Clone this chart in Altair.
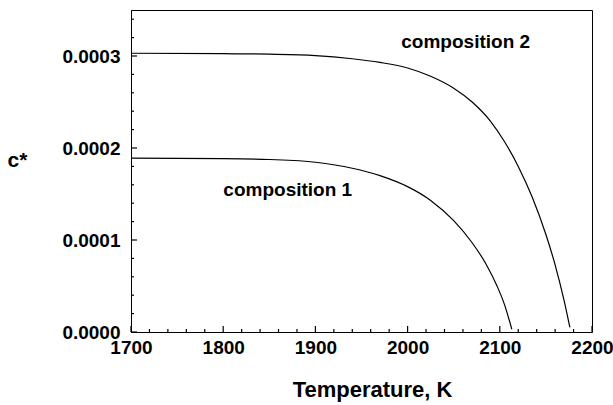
import altair as alt
import pandas as pd

# Data (c in units of 1e-4)
comp2_T = [1700, 1800, 1850, 1900, 1940, 1970, 2000, 2025, 2050, 2070, 2090, 2105, 2120, 2135, 2150, 2160, 2170, 2176]
comp2_c = [3.03, 3.025, 3.02, 3.005, 2.97, 2.93, 2.87, 2.78, 2.65, 2.50, 2.29, 2.07, 1.80, 1.47, 1.06, 0.73, 0.33, 0.05]
comp1_T = [1700, 1800, 1850, 1900, 1940, 1970, 2000, 2025, 2050, 2070, 2085, 2097, 2105, 2113]
comp1_c = [1.89, 1.885, 1.875, 1.845, 1.78, 1.70, 1.58, 1.43, 1.21, 0.97, 0.74, 0.50, 0.30, 0.03]

label_text = ["composition 2", "composition 1"]
label_T = [2063, 1870]
label_c = [3.154, 1.547]

x_major = [1700, 1800, 1900, 2000, 2100, 2200]
x_minor = [v for v in range(1700, 2201, 20) if v % 100 != 0]
y_major = [0.0, 0.0001, 0.0002, 0.0003]
y_minor = [i * 0.00002 for i in range(0, 18) if i % 5 != 0]

FONT = "Liberation Sans"
W, H = 461, 322

rows = []
for t, c in zip(comp2_T, comp2_c):
    rows.append({"T": t, "c": c * 1e-4, "series": "composition 2"})
for t, c in zip(comp1_T, comp1_c):
    rows.append({"T": t, "c": c * 1e-4, "series": "composition 1"})
df = pd.DataFrame(rows)
lab = pd.DataFrame({"T": label_T, "c": [v * 1e-4 for v in label_c], "text": label_text})

xscale = alt.Scale(domain=[1700, 2200], nice=False, zero=False)
yscale = alt.Scale(domain=[0, 0.00035], nice=False)

xaxis = alt.Axis(values=x_major, format="d", ticks=False, grid=False,
                 labelFont=FONT, labelFontSize=19, labelFontWeight="bold", labelColor="black",
                 labelPadding=6, domainColor="black", domainWidth=1,
                 title="Temperature, K", titleFont=FONT, titleFontSize=22, titleFontWeight="bold",
                 titleColor="black", titleX=241, titleY=64, titleBaseline="alphabetic",
                 labelOverlap=False, labelFlush=False)
yaxis = alt.Axis(values=y_major, format=".4f", ticks=False, grid=False,
                 labelFont=FONT, labelFontSize=19, labelFontWeight="bold", labelColor="black",
                 labelPadding=11, domainColor="black", domainWidth=1,
                 title="c*", titleFont=FONT, titleFontSize=21, titleFontWeight="bold",
                 titleColor="black", titleAngle=0, titleX=-114, titleY=150,
                 titleAlign="center", titleBaseline="middle", labelOverlap=False, labelFlush=False)

lines = alt.Chart(df).mark_line(color="black", strokeWidth=1.2, interpolate="monotone").encode(
    x=alt.X("T:Q", scale=xscale, axis=xaxis),
    y=alt.Y("c:Q", scale=yscale, axis=yaxis),
    detail="series:N",
)

texts = alt.Chart(lab).mark_text(font=FONT, fontSize=19, fontWeight="bold", color="black",
                                  align="center", baseline="middle").encode(
    x=alt.X("T:Q", scale=xscale, axis=xaxis),
    y=alt.Y("c:Q", scale=yscale, axis=yaxis),
    text="text:N",
)

def xticks(vals, length):
    return alt.Chart(pd.DataFrame({"T": vals})).mark_rule(color="black", strokeWidth=1.2).encode(
        x=alt.X("T:Q", scale=xscale, axis=xaxis),
        y=alt.value(H), y2=alt.value(H - length),
    )

def yticks(vals, length):
    return alt.Chart(pd.DataFrame({"c": vals})).mark_rule(color="black", strokeWidth=1.2).encode(
        y=alt.Y("c:Q", scale=yscale, axis=yaxis),
        x=alt.value(0), x2=alt.value(length),
    )

chart = alt.layer(
    lines, texts,
    xticks(x_major, 6), xticks(x_minor, 3),
    yticks(y_major, 6), yticks(y_minor, 3),
).properties(
    width=W, height=H,
    autosize=alt.AutoSizeParams(type="none"),
    padding={"left": 131, "top": 10, "right": 21, "bottom": 73},
    background="white",
).configure_view(stroke="black", strokeWidth=1)

chart.save("out.html", embed_options={"renderer": "svg", "actions": False})
